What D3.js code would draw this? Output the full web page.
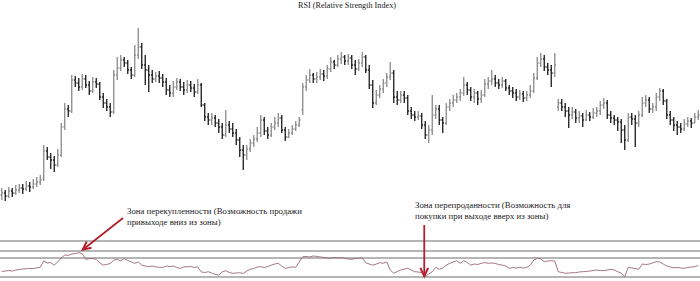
<!DOCTYPE html>
<html>
<head>
<meta charset="utf-8">
<script src="https://cdn.jsdelivr.net/npm/d3@7"></script>
<style>
  body { margin: 0; background: #fff; }
  svg { display: block; }
  text { font-family: "Liberation Serif", "Times New Roman", serif; fill: #222; }
</style>
</head>
<body>
<div id="chart"></div>
<script>
var width = 700,
    height = 281;

var title = 'RSI (Relative Strength Index)';
var noteBuy = ['Зона перекупленности (Возможность продажи', 'привыходе вниз из зоны)'];
var noteSell = ['Зона перепроданности (Возможность для', 'покупки при выходе вверх из зоны)'];

// price bars
var open = [
    20, 22, 19, 24, 22, 25, 27, 26, 29, 28,
    31, 33, 36, 64, 58, 55, 50, 60, 88, 106,
    104, 135, 132, 128, 136, 130, 124, 133, 131, 118,
    112, 108, 103, 140, 147, 155, 152, 145, 140, 160,
    168, 150, 145, 140, 136, 139, 137, 133, 125, 122,
    128, 133, 128, 125, 130, 127, 123, 130, 110, 98,
    95, 97, 92, 88, 80, 90, 86, 82, 75, 65,
    60, 66, 72, 76, 82, 95, 84, 80, 88, 92,
    97, 85, 78, 82, 86, 90, 105, 128, 135, 140,
    136, 138, 141, 139, 146, 153, 150, 156, 158, 154,
    157, 150, 146, 152, 158, 145, 130, 112, 120, 126,
    132, 138, 142, 118, 115, 120, 117, 104, 100, 98,
    99, 90, 80, 85, 100, 106, 95, 92, 108, 112,
    115, 118, 122, 130, 125, 118, 122, 116, 120, 131,
    134, 136, 132, 130, 134, 127, 124, 122, 118, 121,
    117, 120, 124, 137, 152, 156, 148, 145, 142, 108,
    112, 108, 104, 100, 103, 97, 99, 95, 100, 98,
    102, 104, 110, 112, 100, 97, 95, 93, 85, 75,
    98, 96, 92, 100, 112, 115, 106, 108, 118, 124,
    114, 100, 95, 90, 88, 86, 91, 94, 92, 98
];
var high = [
    27, 25, 28, 27, 30, 31, 31, 34, 33, 36,
    38, 40, 70, 68, 62, 59, 66, 92, 112, 110,
    140, 139, 137, 141, 140, 134, 138, 137, 133, 122,
    116, 112, 145, 158, 160, 158, 155, 148, 170, 187,
    172, 160, 150, 145, 143, 144, 141, 137, 130, 134,
    137, 136, 133, 135, 134, 131, 136, 132, 112, 102,
    102, 100, 96, 92, 105, 94, 92, 86, 78, 70,
    70, 76, 80, 88, 100, 98, 88, 92, 98, 102,
    100, 88, 86, 90, 94, 98, 132, 140, 146, 142,
    143, 146, 145, 150, 158, 155, 160, 163, 160, 161,
    160, 155, 156, 163, 160, 150, 135, 125, 130, 136,
    142, 153, 145, 124, 124, 124, 120, 108, 104, 104,
    102, 94, 90, 120, 110, 110, 98, 112, 116, 120,
    122, 126, 138, 133, 128, 126, 124, 125, 136, 138,
    145, 140, 136, 138, 136, 130, 128, 126, 125, 124,
    124, 130, 142, 158, 162, 160, 152, 150, 162, 116,
    116, 112, 108, 108, 106, 104, 102, 105, 103, 107,
    108, 114, 117, 115, 104, 100, 98, 96, 90, 102,
    102, 100, 104, 118, 120, 118, 112, 122, 127, 126,
    116, 104, 98, 94, 92, 96, 98, 97, 102, 105
];
var low = [
    15, 14, 17, 18, 20, 22, 21, 24, 23, 26,
    28, 30, 34, 55, 46, 43, 48, 58, 85, 98,
    102, 128, 124, 125, 127, 120, 122, 127, 115, 107,
    104, 98, 101, 135, 144, 148, 141, 136, 138, 156,
    146, 130, 123, 132, 133, 132, 128, 120, 118, 118,
    125, 124, 120, 122, 123, 118, 121, 108, 94, 90,
    90, 88, 82, 76, 78, 82, 78, 70, 58, 45,
    55, 63, 68, 73, 78, 80, 76, 78, 85, 88,
    82, 74, 77, 80, 84, 88, 100, 124, 132, 132,
    132, 135, 134, 136, 143, 146, 148, 151, 150, 150,
    146, 140, 144, 148, 142, 126, 107, 110, 117, 122,
    128, 135, 112, 110, 112, 112, 100, 96, 94, 95,
    86, 76, 72, 80, 96, 90, 82, 90, 104, 108,
    112, 114, 119, 120, 114, 112, 110, 112, 118, 126,
    130, 128, 126, 127, 124, 120, 117, 114, 115, 113,
    114, 117, 122, 135, 148, 144, 140, 128, 138, 104,
    104, 98, 87, 96, 92, 92, 88, 94, 94, 96,
    98, 100, 106, 96, 92, 90, 84, 72, 65, 73,
    90, 68, 88, 98, 108, 102, 102, 104, 114, 110,
    96, 90, 84, 80, 82, 84, 88, 87, 92, 95
];
var close = [
    22, 19, 24, 22, 25, 27, 26, 29, 28, 31,
    33, 35, 64, 58, 55, 50, 60, 88, 106, 104,
    135, 132, 128, 136, 130, 124, 133, 131, 118, 112,
    108, 103, 140, 147, 155, 152, 145, 140, 160, 168,
    150, 145, 140, 136, 139, 137, 133, 125, 122, 128,
    133, 128, 125, 130, 127, 123, 130, 110, 98, 95,
    97, 92, 88, 80, 90, 86, 82, 75, 65, 60,
    66, 72, 76, 82, 95, 84, 80, 88, 92, 97,
    85, 78, 82, 86, 90, 95, 128, 135, 140, 136,
    138, 141, 139, 146, 153, 150, 156, 158, 154, 157,
    150, 146, 152, 158, 145, 130, 112, 120, 126, 132,
    138, 142, 118, 115, 120, 117, 104, 100, 98, 99,
    90, 80, 85, 100, 106, 95, 92, 108, 112, 115,
    118, 122, 130, 125, 118, 122, 116, 120, 131, 134,
    136, 132, 130, 134, 127, 124, 122, 118, 121, 117,
    120, 124, 137, 152, 156, 148, 145, 142, 150, 112,
    108, 104, 100, 103, 97, 99, 95, 100, 98, 102,
    104, 110, 112, 100, 97, 95, 93, 85, 75, 98,
    96, 92, 100, 112, 115, 106, 108, 118, 124, 114,
    100, 95, 90, 88, 86, 91, 94, 92, 98, 100
];

// RSI per bar
var rsi = [
    15, 16.5, 18, 16.5, 19.5, 21, 22, 23, 24, 23.5,
    25.5, 27, 45, 39, 40, 33, 42, 53, 61, 60,
    64, 65, 67.5, 65, 49, 51, 51.5, 49, 39, 33,
    35, 37.5, 47, 48.5, 45, 51, 46, 42, 38, 42,
    33, 30.5, 28.6, 30.5, 28, 27, 26.5, 30.5, 29, 30.5,
    26.5, 24, 28, 28.6, 29, 26.5, 28, 14, 12.5, 14.7,
    11, 7, 5.6, 14, 17.5, 12.5, 10.3, 11, 12, 9.7,
    16.5, 21.4, 23.6, 27.8, 28.6, 26.4, 29, 33, 36, 38,
    30.5, 24, 26.4, 27.8, 27, 41.7, 56.4, 57, 55.6, 58.4,
    57, 55.6, 54.2, 52.8, 52, 54.2, 52.8, 54.2, 52, 50,
    49, 51.4, 52, 52.8, 39.7, 36, 33, 36, 39.7, 38,
    41.7, 19.4, 10.3, 15.3, 19.4, 22.2, 24, 19.4, 14.7, 14,
    12, 1, 8.3, 14.7, 27, 21.4, 25, 33, 38, 41.7,
    45.3, 38, 45.3, 40.3, 33, 36, 34.7, 38, 40.3, 38,
    39, 37.5, 34.7, 33, 30.5, 24, 26.4, 25, 27, 25,
    26.4, 33, 47, 52, 50, 42.5, 44.4, 45.3, 44.4, 14.7,
    12.5, 10.3, 11, 12, 12, 14, 14.7, 15.3, 16.7, 18,
    19.4, 18, 17.5, 19.4, 21.4, 19.4, 14.7, 11, 1, 27,
    25, 23.6, 21.4, 36, 34.7, 36, 39, 42.5, 41.7, 36,
    30.5, 27.8, 25.8, 26.4, 25, 24, 26.4, 27.8, 28.6, 32
];
var levels = [100, 72, 53, 0];

var bars = close.map(function(c, i) {
    return { i: i, o: open[i], h: high[i], l: low[i], c: c, r: rsi[i] };
});

var svg = d3.select('#chart').append('svg')
    .attr('width', width)
    .attr('height', height);

var x = d3.scaleBand()
    .domain(d3.range(bars.length))
    .range([0, width]);

var y = d3.scaleLinear()
    .domain([0, 200])
    .range([215, 15]);

var yr = d3.scaleLinear()
    .domain([0, 100])
    .range([277, 241]);

function cx(i) { return x(i) + x.bandwidth() / 2; }

svg.append('text')
    .attr('x', 347)
    .attr('y', 8)
    .attr('text-anchor', 'middle')
    .style('font-size', '8.2px')
    .text(title);

// OHLC bars
var g = svg.append('g').attr('class', 'bars');
var bar = g.selectAll('g')
    .data(bars)
    .enter().append('g')
    .attr('stroke', function(d) { return d.c >= d.o ? '#8a8a8a' : '#1a1a1a'; })
    .attr('stroke-width', 1.3);

bar.append('line')
    .attr('x1', function(d) { return cx(d.i); })
    .attr('x2', function(d) { return cx(d.i); })
    .attr('y1', function(d) { return y(d.h); })
    .attr('y2', function(d) { return y(d.l); });

bar.append('line')
    .attr('x1', function(d) { return cx(d.i) - 1.3; })
    .attr('x2', function(d) { return cx(d.i); })
    .attr('y1', function(d) { return y(d.o); })
    .attr('y2', function(d) { return y(d.o); });

bar.append('line')
    .attr('x1', function(d) { return cx(d.i); })
    .attr('x2', function(d) { return cx(d.i) + 1.3; })
    .attr('y1', function(d) { return y(d.c); })
    .attr('y2', function(d) { return y(d.c); });

// RSI panel
svg.append('g').selectAll('line')
    .data(levels)
    .enter().append('line')
    .attr('x1', 0)
    .attr('x2', width)
    .attr('y1', function(d) { return yr(d); })
    .attr('y2', function(d) { return yr(d); })
    .attr('stroke', '#9c9c9c')
    .attr('stroke-width', 1.5);

svg.append('path')
    .datum(bars)
    .attr('fill', 'none')
    .attr('stroke', '#9a6676')
    .attr('stroke-width', 0.9)
    .attr('d', d3.line()
        .x(function(d) { return cx(d.i); })
        .y(function(d) { return yr(d.r); }));

// annotations
var red = '#b3202c';

function arrow(x0, y0, x1, y1) {
    var a = Math.atan2(y1 - y0, x1 - x0),
        s = 9,
        w = 0.45;
    svg.append('line')
        .attr('x1', x0).attr('y1', y0)
        .attr('x2', x1).attr('y2', y1)
        .attr('stroke', red)
        .attr('stroke-width', 1.8);
    svg.append('path')
        .attr('d', 'M' + (x1 - s * Math.cos(a - w)) + ',' + (y1 - s * Math.sin(a - w)) +
            'L' + x1 + ',' + y1 +
            'L' + (x1 - s * Math.cos(a + w)) + ',' + (y1 - s * Math.sin(a + w)))
        .attr('fill', 'none')
        .attr('stroke', red)
        .attr('stroke-width', 2)
        .attr('stroke-linejoin', 'miter');
}

var peakBar = bars[22],
    dipBar = bars[121];

arrow(123, 218, cx(peakBar.i) + 4, yr(peakBar.r) - 3);
arrow(cx(dipBar.i) - 1, 225, cx(dipBar.i) - 1, yr(dipBar.r) - 0.5);

function note(lines, x0, y0) {
    svg.append('g').selectAll('text')
        .data(lines)
        .enter().append('text')
        .attr('x', x0)
        .attr('y', function(d, i) { return y0 + i * 10.5; })
        .style('font-size', '8.8px')
        .text(function(d) { return d; });
}

note(noteBuy, 127, 214);
note(noteSell, 415, 208);
</script>
</body>
</html>
